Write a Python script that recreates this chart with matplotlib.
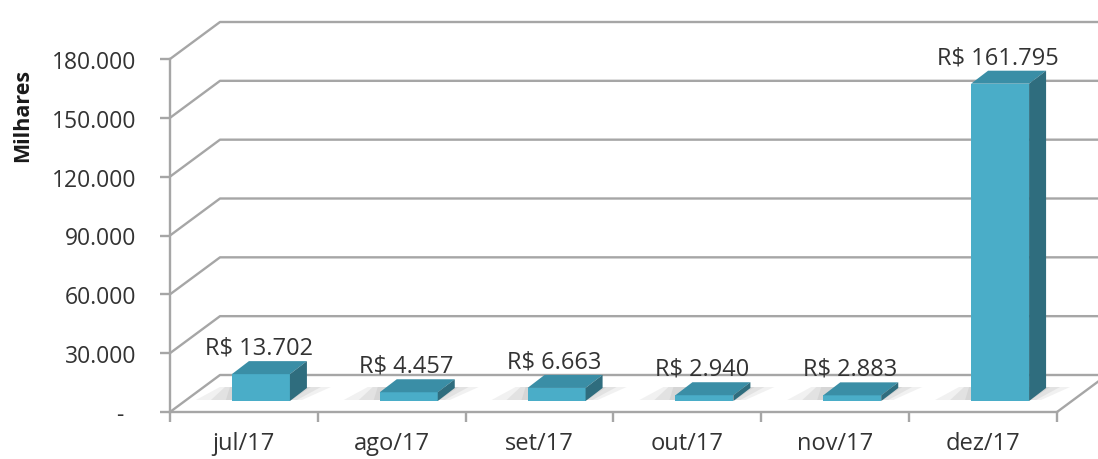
import numpy as np
import matplotlib.pyplot as plt
from matplotlib.patches import Polygon

# data
meses = ["jul/17", "ago/17", "set/17", "out/17", "nov/17", "dez/17"]
valores = [13702, 4457, 6663, 2940, 2883, 161795]
yticks = [0, 30000, 60000, 90000, 120000, 150000, 180000]

plt.rcParams['font.family'] = ['Open Sans', 'DejaVu Sans']

W, H = 1098, 460
fig = plt.figure(figsize=(W / 100, H / 100), dpi=100)
# front plane of the 3d box (pixels): x 170..1057, y 413..60
ax = fig.add_axes([170 / W, 1 - 413 / H, (1057 - 170) / W, (413 - 60) / H])
ax.set_xlim(-0.5, len(meses) - 0.5)
ax.set_ylim(0, 180000)

# pixel -> data conversion
px = len(meses) / (1057 - 170)
py = 180000 / (413 - 60)

grid_col = '#a6a6a6'
txt_col = '#333333'
face = '#4aadc8'
top_col = '#3a8ea6'
side_col = '#2f6d7e'

# back wall / floor lines
wdx, wdy = 50 * px, 37 * py
x0 = -0.5
x1 = len(meses) - 0.5
for v in yticks:
    ax.plot([x0, x0 + wdx, x1 + wdx + 10 * px], [v, v + wdy, v + wdy],
            color=grid_col, lw=1.7, clip_on=False, zorder=1)
ax.plot([x1, x1 + wdx], [0, wdy], color=grid_col, lw=1.7, clip_on=False, zorder=1)

# bars
sx, sy = 17 * px, 11 * py      # bar front plane shift into depth
bdx, bdy = 17 * px, 13 * py    # bar depth
bw = 58 * px
xs = np.arange(len(meses))

# floor shadows
for i, v in enumerate(valores):
    xl = xs[i] + sx - bw / 2
    xr = xs[i] + sx + bw / 2
    for k, a in enumerate([0.25, 0.35, 0.45]):
        g = 12 - 5 * k
        sh = Polygon([(xl - 3 * g * px, sy + 1 * py), (xr + g * px, sy + 1 * py),
                      (xr + bdx + 2 * g * px, sy + bdy + 1 * py),
                      (xl - g * px, sy + bdy + 1 * py)],
                     closed=True, facecolor='#c8c8c8', edgecolor='none', alpha=a,
                     zorder=2, clip_on=False)
        ax.add_patch(sh)

ax.bar(xs + sx, valores, width=bw, bottom=sy, color=face, edgecolor='none', zorder=3)
for i, v in enumerate(valores):
    xl = xs[i] + sx - bw / 2
    xr = xs[i] + sx + bw / 2
    top = sy + v
    ax.add_patch(Polygon([(xl, top), (xr, top), (xr + bdx, top + bdy), (xl + bdx, top + bdy)],
                         closed=True, facecolor=top_col, edgecolor='none', zorder=3, clip_on=False))
    ax.add_patch(Polygon([(xr, sy), (xr, top), (xr + bdx, top + bdy), (xr + bdx, sy + bdy)],
                         closed=True, facecolor=side_col, edgecolor='none', zorder=3, clip_on=False))
    lab = "R$ " + f"{v:,}".replace(",", ".")
    ax.annotate(lab, (xs[i] + sx - 2 * px, top + bdy), xytext=(0, 1), textcoords='offset points',
                ha='center', va='bottom', fontsize=17, color=txt_col, zorder=4,
                annotation_clip=False)

# axes styling
for s in ['top', 'right']:
    ax.spines[s].set_visible(False)
for s in ['left', 'bottom']:
    ax.spines[s].set_color(grid_col)
    ax.spines[s].set_linewidth(1.7)
    ax.spines[s].set_zorder(5)

ax.set_yticks(yticks)
ax.set_yticklabels(["-  "] + [f"{v:,}".replace(",", ".") for v in yticks[1:]])
ax.tick_params(axis='y', length=7, width=1.7, color=grid_col, pad=17,
               labelsize=16.5, labelcolor=txt_col)

ax.set_xticks(xs)
ax.set_xticklabels(meses)
ax.set_xticks(np.arange(len(meses) + 1) - 0.5, minor=True)
ax.tick_params(axis='x', which='major', length=0, pad=14, labelsize=17, labelcolor=txt_col)
ax.tick_params(axis='x', which='minor', length=7, width=1.7, color=grid_col)

ax.set_facecolor('none')
ax.set_ylabel("Milhares", fontsize=15.5, fontweight='bold', color='#1a1a1a')
ax.yaxis.set_label_coords(-(170 - 33) / (1057 - 170), (413 - 115) / (413 - 60))

fig.savefig('out.png', dpi=100)
